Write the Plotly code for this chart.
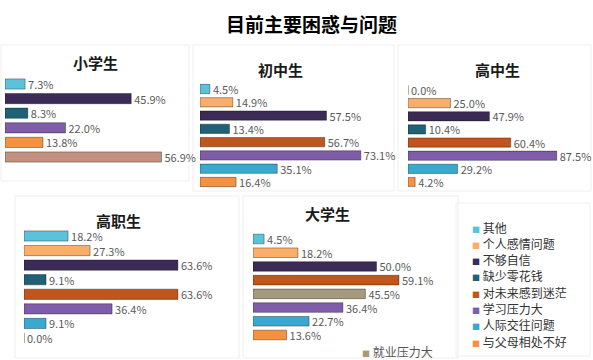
import plotly.graph_objects as go

W, H = 593, 360

# ---------------- data ----------------
title_main = "目前主要困惑与问题"

cats_xiao = ["其他", "不够自信", "缺少零花钱", "学习压力大", "与父母相处不好", "未注明"]
vals_xiao = [7.3, 45.9, 8.3, 22.0, 13.8, 56.9]

cats_chu = ["其他", "个人感情问题", "不够自信", "缺少零花钱", "对未来感到迷茫", "学习压力大", "人际交往问题", "与父母相处不好"]
vals_chu = [4.5, 14.9, 57.5, 13.4, 56.7, 73.1, 35.1, 16.4]

cats_gao = ["其他", "个人感情问题", "不够自信", "缺少零花钱", "对未来感到迷茫", "学习压力大", "人际交往问题", "与父母相处不好"]
vals_gao = [0.0, 25.0, 47.9, 10.4, 60.4, 87.5, 29.2, 4.2]

cats_zhi = ["其他", "个人感情问题", "不够自信", "缺少零花钱", "对未来感到迷茫", "学习压力大", "人际交往问题", "与父母相处不好"]
vals_zhi = [18.2, 27.3, 63.6, 9.1, 63.6, 36.4, 9.1, 0.0]

cats_da = ["其他", "个人感情问题", "不够自信", "对未来感到迷茫", "就业压力大", "学习压力大", "人际交往问题", "与父母相处不好"]
vals_da = [4.5, 18.2, 50.0, 59.1, 45.5, 36.4, 22.7, 13.6]

legend_items = ["其他", "个人感情问题", "不够自信", "缺少零花钱", "对未来感到迷茫", "学习压力大", "人际交往问题", "与父母相处不好"]

# ---------------- styles ----------------
COLORS = {
    "其他": "#5BC2DC",
    "个人感情问题": "#FBAD6A",
    "不够自信": "#3D2B57",
    "缺少零花钱": "#1F6176",
    "对未来感到迷茫": "#C0561C",
    "学习压力大": "#7F5DAB",
    "人际交往问题": "#38AACF",
    "与父母相处不好": "#F6923F",
    "就业压力大": "#A59B7C",
    "未注明": "#C3917F",
}

FONT = "Noto Sans CJK SC"

def px(x):
    return x / W

def py(y):
    return 1 - y / H

# panel definitions: (title, cats, vals, x_start_px, px_per_pct, x_end_px, y_first_center, y_last_center, title_x, title_y)
panels = [
    ("小学生", cats_xiao, vals_xiao, 5, 2.75, 188, 84, 157, 95, 62),
    ("初中生", cats_chu, vals_chu, 200, 2.2, 393, 89, 182, 280, 70),
    ("高中生", cats_gao, vals_gao, 408, 1.70, 590, 90, 182, 497, 70),
    ("高职生", cats_zhi, vals_zhi, 24, 2.42, 238, 236, 338, 118, 220),
    ("大学生", cats_da, vals_da, 253, 2.47, 458, 239, 335, 327, 213),
]

boxes = [
    (1, 45, 189, 181),
    (193, 45, 394, 191),
    (398, 45, 591, 191),
    (15, 196, 239, 358),
    (243, 196, 458, 358),
    (456, 203, 590, 356),
]

fig = go.Figure()
layout = dict(
    width=W, height=H, autosize=False,
    margin=dict(l=0, r=0, t=0, b=0),
    paper_bgcolor="white", plot_bgcolor="rgba(0,0,0,0)",
    showlegend=False, bargap=0.3,
    font=dict(family=FONT, color="#333333"),
)

annotations = []
shapes = []

for (x0, y0, x1, y1) in boxes:
    shapes.append(dict(type="rect", xref="paper", yref="paper",
                       x0=px(x0), x1=px(x1), y0=py(y1), y1=py(y0),
                       line=dict(color="#EFEFEF", width=1), fillcolor="rgba(0,0,0,0)", layer="below"))

for i, (title, cats, vals, xs, scale, xe, yc0, yc1, tx, ty) in enumerate(panels):
    n = len(cats)
    step = (yc1 - yc0) / (n - 1)
    dom_top = yc0 - step / 2
    dom_bot = yc1 + step / 2
    rng = (xe - xs) / scale
    ax = "" if i == 0 else str(i + 1)
    fig.add_trace(go.Bar(
        y=cats, x=vals, orientation="h",
        marker=dict(color=[COLORS[c] for c in cats], line=dict(color="rgba(0,0,0,0.35)", width=1)),
        text=[f"{v:.1f}%" for v in vals], textposition="outside",
        textfont=dict(family=FONT, size=11, color="#5A5A5A"),
        constraintext="none", cliponaxis=False,
        xaxis="x" + ax, yaxis="y" + ax, hoverinfo="x+y",
    ))
    layout["xaxis" + ax] = dict(domain=[px(xs), px(xe)], range=[0, rng], visible=False,
                                anchor="y" + ax, fixedrange=True)
    layout["yaxis" + ax] = dict(domain=[py(dom_bot), py(dom_top)], range=[n - 0.5, -0.5],
                                visible=False, anchor="x" + ax, type="category", fixedrange=True)
    annotations.append(dict(text=f"<b>{title}</b>", x=px(tx), y=py(ty), xref="paper", yref="paper",
                            showarrow=False, xanchor="center", yanchor="middle",
                            font=dict(family=FONT, size=15, color="#1A1A1A")))

# main title
annotations.append(dict(text=f"<b>{title_main}</b>", x=px(311), y=py(24), xref="paper", yref="paper",
                        showarrow=False, xanchor="center", yanchor="middle",
                        font=dict(family=FONT, size=19, color="#000000")))

# legend
leg_y0, leg_step = 227, 16.3
for k, name in enumerate(legend_items):
    annotations.append(dict(
        text=f'<span style="color:{COLORS[name]};font-size:8px">■</span> {name}',
        x=px(470), y=py(leg_y0 + k * leg_step), xref="paper", yref="paper",
        showarrow=False, xanchor="left", yanchor="middle",
        font=dict(family=FONT, size=12, color="#333333")))

# 就业压力大 small legend in 大学生 panel
annotations.append(dict(
    text=f'<span style="color:{COLORS["就业压力大"]};font-size:8px">■</span> 就业压力大',
    x=px(360), y=py(351), xref="paper", yref="paper",
    showarrow=False, xanchor="left", yanchor="middle",
    font=dict(family=FONT, size=12, color="#555555")))

layout["annotations"] = annotations
layout["shapes"] = shapes
fig.update_layout(**layout)
fig.write_html("out.html", config={"displayModeBar": False},
               post_script="document.body.style.margin='0';document.body.style.overflow='hidden';")
